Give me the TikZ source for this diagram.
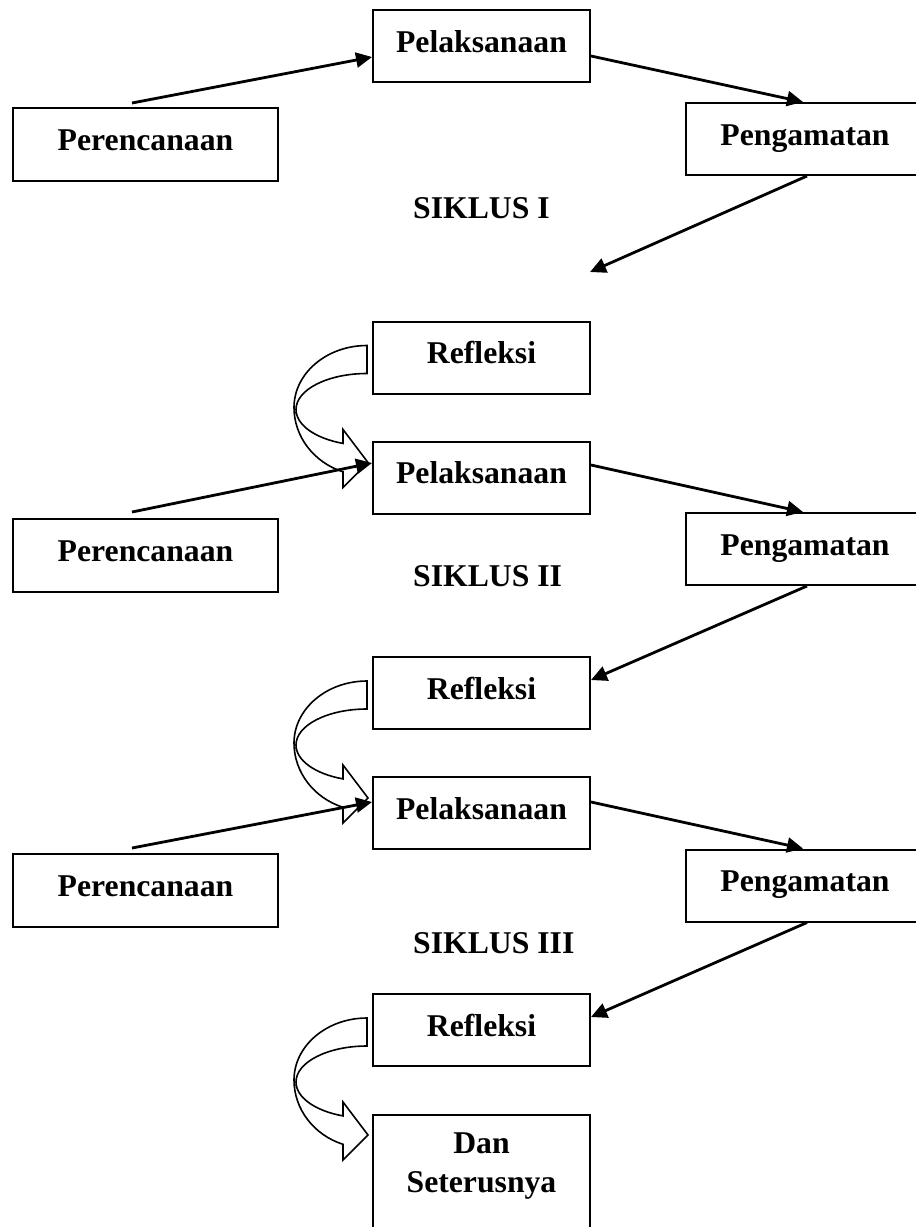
\documentclass[tikz,border=0pt]{standalone}
\usepackage{fontspec}
\setmainfont{Liberation Serif}
\usetikzlibrary{arrows.meta}
\newcommand{\curvedblock}[1]{%
  \path[blockarrow, shift={(#1)}]
    (0,-12) .. controls (-40.3,-12) and (-73,15.8) .. (-73,50)
    .. controls (-73,79) and (-53.3,104.9) .. (-24,114.3)
    -- (-24,130) -- (1,105) -- (-24,72) -- (-24,85.9)
    .. controls (-52.2,80.8) and (-71,67.2) .. (-71,52)
    .. controls (-71,32.1) and (-39.2,16) .. (0,16)
    -- cycle;}
\begin{document}
\begin{tikzpicture}[x=1pt, y=-1pt,
  lbl/.style={font=\bfseries\fontsize{31.7pt}{39pt}\selectfont},
  box/.style={lbl, draw, line width=2pt, minimum height=72pt, inner sep=0pt,
    text height=21pt, text depth=9pt},
  flow/.style={line width=2.8pt, -{Triangle[length=16pt,width=15pt]}},
  blockarrow/.style={draw, fill=white, line width=1.6pt, line join=miter},
  title/.style={lbl, anchor=base west, inner sep=0pt},
  dantext/.style={lbl, anchor=north, inner sep=0pt, align=center}]
\useasboundingbox (0,0) rectangle (916,1227);

% cycle I
\node[box, minimum width=217pt] (pel1) at (481.5,46) {Pelaksanaan};
\node[box, minimum width=265pt, minimum height=73pt] (per1) at (145.5,144.5) {Perencanaan};
\node[box, minimum width=238pt] (peng1) at (805,139) {Pengamatan};
\node[title] (s1) at (413,218) {SIKLUS I};
\coordinate (c1) at (590,272);

% cycle II
\node[box, minimum width=217pt] (ref1) at (481.5,357.5) {Refleksi};
\node[box, minimum width=217pt] (pel2) at (481.5,477.5) {Pelaksanaan};
\node[box, minimum width=265pt, minimum height=73pt] (per2) at (145.5,555) {Perencanaan};
\node[box, minimum width=238pt] (peng2) at (805,549) {Pengamatan};
\node[title] (s2) at (413,586) {SIKLUS II};

% cycle III
\node[box, minimum width=217pt] (ref2) at (481.5,693) {Refleksi};
\node[box, minimum width=217pt] (pel3) at (481.5,813) {Pelaksanaan};
\node[box, minimum width=265pt, minimum height=73pt] (per3) at (145.5,890) {Perencanaan};
\node[box, minimum width=238pt] (peng3) at (805,885.5) {Pengamatan};
\node[title] (s3) at (413,953) {SIKLUS III};

\node[box, minimum width=217pt] (ref3) at (481.5,1030) {Refleksi};
\node[box, minimum width=217pt, minimum height=140pt, anchor=north] (dan) at (481.5,1114) {};
\node[dantext] (danlabel) at ([yshift=-19pt]dan.north) {Dan\\Seterusnya};

% curved block arrows
\coordinate (o1) at ([xshift=-5pt]ref1.west);
\coordinate (o2) at ([xshift=-5pt]ref2.west);
\coordinate (o3) at ([xshift=-5pt]ref3.west);
\curvedblock{o1}
\curvedblock{o2}
\curvedblock{o3}

% straight arrows
\draw[flow] ([xshift=120pt,yshift=4pt]per1.north west) -- ([yshift=-11pt]pel1.west);
\draw[flow] ([yshift=-10pt]pel1.east) -- ([xshift=-2pt]peng1.north);
\draw[flow] ([xshift=2pt]peng1.south) -- (c1);

\draw[flow] ([xshift=120pt,yshift=5.5pt]per2.north west) -- ([yshift=14.5pt]pel2.west);
\draw[flow] ([yshift=12.5pt]pel2.east) -- ([xshift=-2pt]peng2.north);
\draw[flow] ([xshift=2pt]peng2.south) -- ([yshift=13pt]ref2.east);

\draw[flow] ([xshift=120pt,yshift=4.5pt]per3.north west) -- ([yshift=11pt]pel3.west);
\draw[flow] ([yshift=11pt]pel3.east) -- ([xshift=-2pt]peng3.north);
\draw[flow] ([xshift=2pt]peng3.south) -- ([yshift=13pt]ref3.east);
\end{tikzpicture}
\end{document}
